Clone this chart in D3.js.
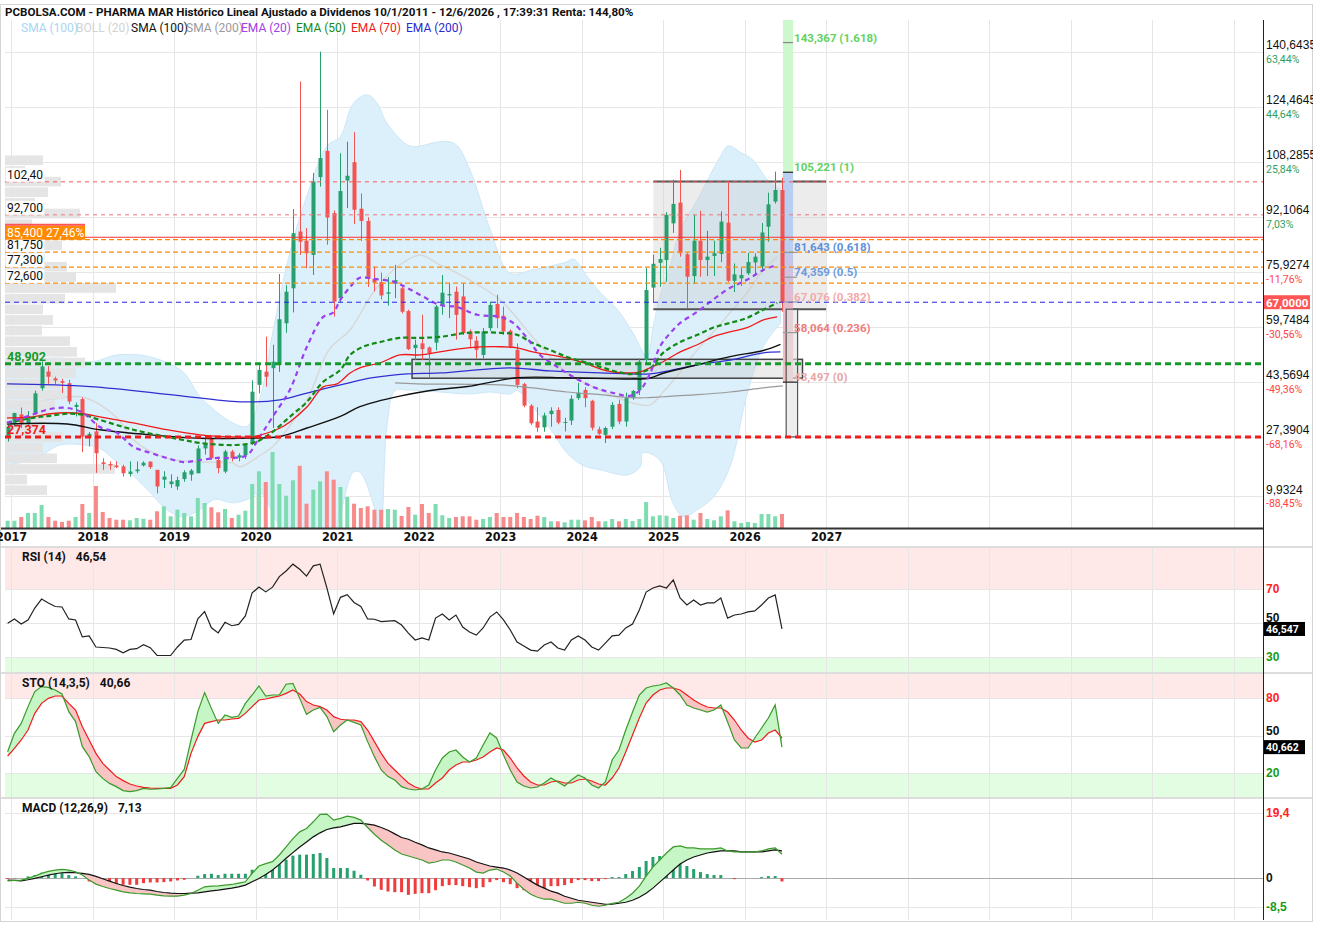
<!DOCTYPE html>
<html>
<head>
<meta charset="utf-8">
<script src="https://cdn.jsdelivr.net/npm/d3@7"></script>
<style>
  body { margin: 0; background: #fff; }
  svg { display: block; font-family: Roboto, "Liberation Sans", sans-serif; }
</style>
</head>
<body>
<svg width="1318" height="927"></svg>
<script>
(function() {
	"use strict";

	// ---------- data ----------
	var title = "PCBOLSA.COM - PHARMA MAR Histórico Lineal Ajustado a Dividenos 10/1/2011 - 12/6/2026 , 17:39:31 Renta: 144,80%";
	var legendNames = ["SMA (100)", "BOLL (20)", "SMA (100)", "SMA (200)", "EMA (20)", "EMA (50)", "EMA (70)", "EMA (200)"];
	var years = d3.range(2017, 2028);
	var priceTicks = [140.6435, 124.4645, 108.2855, 92.1064, 75.9274, 59.7484, 43.5694, 27.3904, 9.9324];
	var priceTickPct = ["63,44%", "44,64%", "25,84%", "7,03%", "-11,76%", "-30,56%", "-49,36%", "-68,16%", "-88,45%"];
	var lastPrice = 67.0;

	// monthly candles, first one is December 2016
	var firstMonth = 2016 + 11 / 12;
	var opens = [27.5, 31.5, 34, 31.5, 34.4, 41.7, 46.6, 44.6, 43.8, 43.2, 36.2, 38.5, 27.3, 29, 19.9, 19.4, 19.0, 18.7, 16.5, 17.3, 19.0, 20.1, 17.7, 14.8, 13.5, 12.8, 15, 16.3, 16.7, 24, 27, 20.6, 17.2, 23.1, 21.3, 22, 25.5, 42.7, 46.6, 47.6, 48.6, 60.8, 71.1, 87.8, 85.1, 80.9, 103.8, 111.5, 93.2, 68.2, 102.8, 108.2, 94.5, 90.9, 73.9, 72.9, 69.5, 72.5, 71.1, 64.4, 53.5, 54.9, 53.7, 55.1, 66.2, 69, 70.1, 68.7, 58.4, 55.7, 51.5, 59.4, 66.5, 63, 58.6, 53, 42.9, 36.6, 31.9, 30.2, 34.1, 35.3, 31.6, 32.2, 38.8, 41.2, 38, 29.6, 28, 30.4, 37.1, 31.9, 38.8, 41.2, 50, 71.3, 78.6, 79.4, 90.2, 96.3, 81.1, 74.7, 85.1, 79.4, 80.6, 81.2, 90.4, 73.3, 74, 75.5, 78.7, 77.5, 89.2, 96.6, 100];
	var highs = [31, 34.5, 36, 35, 41, 49.6, 48.2, 45.1, 44.5, 44.2, 37.5, 39, 28.8, 31.5, 21.1, 20.2, 20.2, 19.2, 20.2, 20.2, 20.2, 20.2, 17.7, 17.3, 16.4, 15.7, 17.6, 18, 24.9, 27.6, 27.6, 21.6, 23.6, 23.6, 22.6, 25.5, 44, 48.6, 56.9, 54.5, 75.3, 72, 94.4, 131.9, 88.8, 105, 140.7, 123.6, 94, 110.8, 114.2, 117, 99, 92, 77.5, 75.7, 74.4, 78, 71.5, 64.8, 56, 63.3, 54, 66.2, 75, 72.7, 71.6, 72.6, 59, 57, 59.4, 67.2, 69.2, 65.7, 59, 54.9, 43.3, 37, 36.1, 34.5, 36.1, 36.1, 33, 39.6, 43.3, 42, 38.3, 30.4, 30.4, 37.6, 38.3, 40.4, 41.2, 50.5, 77, 81, 83, 93.5, 103, 105.9, 81.5, 92.7, 93.9, 88, 85.1, 93.7, 102.5, 78.4, 77, 81.5, 81.4, 90.3, 99.2, 105.4, 103.6];
	var lows = [26, 30.5, 30, 31, 34, 41, 43, 42.8, 40.3, 37, 33.4, 22.9, 24.6, 16.8, 17.7, 17.7, 18.2, 15.7, 15.7, 16.7, 18.7, 18, 10.8, 12.4, 12.4, 11.8, 14.2, 14.5, 16.7, 22.2, 20.6, 16.7, 16.7, 20.2, 20.2, 20.9, 25, 40.2, 42.2, 30, 46.5, 58, 64, 80.9, 77, 75, 101, 83.9, 62.8, 67, 94.7, 90, 85, 71.5, 70.2, 67.8, 66, 68.2, 63.7, 52.9, 50, 50, 44.7, 52.9, 63.3, 62.3, 56, 57.4, 53.5, 50.5, 50.5, 58.6, 59.4, 57.4, 53.5, 41.7, 36.1, 30.9, 28.9, 28.9, 30.4, 31.1, 29, 30.9, 38.3, 36.1, 29.3, 28, 25.6, 29.7, 31.1, 30.4, 38.3, 39.7, 48.5, 67, 71.5, 73, 87.4, 80.4, 65.3, 72.5, 74.5, 74.7, 74.7, 78.8, 73, 70, 71.8, 75, 74.8, 76, 84.8, 96, 64.2];
	var closes = [30.4, 34.4, 31.5, 33.5, 40.2, 48.1, 45.1, 44.0, 43.3, 37.8, 36.8, 27.5, 28.3, 22.6, 19.4, 19.0, 18.5, 16.7, 17.2, 17.8, 19.8, 18.5, 12.8, 15.7, 14.3, 14.7, 17, 17.5, 24, 25.5, 21.1, 18.2, 23.1, 21.1, 22, 25, 40.7, 47.1, 45.1, 49.5, 62, 70.1, 87.3, 84.8, 81.4, 102.5, 109.4, 91.9, 67.2, 99.7, 104.2, 94.2, 90.9, 73.9, 72.8, 69, 69.9, 73.5, 64.2, 53.2, 54.5, 53.2, 52, 65.7, 69.8, 69.4, 63.3, 57.9, 56.1, 53, 58.4, 66.2, 62.3, 58.4, 54, 42.7, 36.6, 31.4, 30.1, 33.7, 35.1, 31.6, 31.8, 38.6, 40.4, 38.8, 30.1, 28.3, 30, 36.8, 31.9, 38.8, 40.9, 49.5, 70.6, 78.3, 79.7, 92.7, 95.9, 81.4, 74.5, 85.1, 79.4, 80.4, 81.4, 90.7, 73.3, 75.2, 75, 78.8, 80.4, 87.5, 95.8, 100, 67];
	var volumes = [7.3, 7.3, 11, 15, 15, 23, 11, 7.3, 6, 7.3, 11, 24, 15, 42, 16, 10, 8.3, 8.3, 7.7, 10, 9.3, 8.3, 16.7, 21.7, 11.7, 18.3, 15, 11.7, 30, 25, 20.7, 15.7, 19, 10, 13.3, 17.3, 44, 56.7, 46, 76, 44, 32.3, 47.7, 62.3, 24.3, 38.3, 46.7, 56.7, 48.3, 41, 31, 24.3, 20, 21.7, 18.3, 18.3, 19, 18.3, 12, 21, 13.3, 24, 15, 24, 12.7, 10, 11, 11.7, 11.7, 8.3, 9, 11, 15, 11, 11, 15, 11, 9, 12.3, 11, 6.7, 6.7, 5.7, 8.3, 8.3, 7.7, 11, 6.7, 6.7, 9, 6.7, 9, 7, 9, 26, 11.7, 12.7, 12.3, 10, 12.3, 12.7, 8.3, 15, 9, 7.7, 11.7, 17.7, 6.7, 5, 6, 5, 14, 14, 11.7, 14];

	// moving averages and band, sampled as [year, price]
	var sma100 = [[2016.95,31.2],[2017.69,31.2],[2018.09,29.5],[2018.71,28.0],[2019.32,27.0],[2019.81,27.0],[2020.30,27.5],[2020.63,30.0],[2021.04,33.4],[2021.28,36.3],[2021.77,39.4],[2022.26,41.4],[2022.60,42.2],[2023.21,44.8],[2023.82,44.8],[2024.63,44.4],[2024.84,44.7],[2025.00,46.1],[2025.42,48.6],[2025.82,51.0],[2026.23,52.8],[2026.44,54.6]];
	var sma200 = [[2021.71,43.3],[2021.98,43.0],[2023.00,42.7],[2023.40,41.8],[2023.82,40.6],[2024.23,39.8],[2024.63,38.9],[2024.75,38.9],[2025.00,39.2],[2025.42,39.8],[2025.82,40.6],[2026.23,41.8],[2026.47,42.4]];
	var ema20 = [[2016.95,31.5],[2017.27,34.0],[2017.48,35.6],[2017.69,35.9],[2017.88,34.5],[2018.09,30.3],[2018.30,28.6],[2018.50,24.5],[2018.71,22.7],[2018.91,21.2],[2019.11,20.0],[2019.32,20.6],[2019.53,21.2],[2019.72,21.2],[2019.90,22.1],[2020.04,27.0],[2020.21,33.3],[2020.42,41.2],[2020.63,53.9],[2020.83,62.7],[2020.95,63.9],[2021.04,67.7],[2021.16,71.5],[2021.28,74.2],[2021.44,73.9],[2021.69,73.0],[2021.86,71.2],[2022.06,68.6],[2022.26,66.2],[2022.47,65.6],[2022.72,63.3],[2023.00,62.7],[2023.16,60.9],[2023.33,56.5],[2023.49,51.5],[2023.70,48.0],[2023.90,45.0],[2024.14,42.1],[2024.39,40.3],[2024.60,39.5],[2024.72,41.2],[2024.84,46.0],[2024.96,53.9],[2025.09,58.0],[2025.21,60.9],[2025.42,64.2],[2025.61,67.7],[2025.82,71.2],[2026.03,73.6],[2026.23,76.5],[2026.40,78.0]];
	var ema50 = [[2016.95,31.5],[2017.27,33.0],[2017.48,33.6],[2017.69,34.2],[2017.88,33.9],[2018.09,32.4],[2018.50,29.5],[2018.91,27.4],[2019.11,26.5],[2019.32,25.6],[2019.72,25.0],[2019.97,25.6],[2020.06,26.5],[2020.21,28.9],[2020.42,33.3],[2020.63,37.7],[2020.83,43.6],[2021.04,47.1],[2021.16,51.5],[2021.32,53.9],[2021.53,55.3],[2021.77,56.5],[2022.02,56.5],[2022.26,56.8],[2022.60,58.0],[2023.00,58.0],[2023.21,57.4],[2023.40,55.0],[2023.61,53.0],[2023.82,50.9],[2024.02,49.5],[2024.23,48.0],[2024.44,46.5],[2024.63,45.9],[2024.84,47.5],[2025.00,52.1],[2025.21,55.3],[2025.42,57.4],[2025.61,59.5],[2025.82,60.9],[2026.03,62.4],[2026.23,64.8],[2026.40,66.8]];
	var ema70 = [[2016.95,33.0],[2017.27,33.3],[2017.48,34.2],[2017.69,34.5],[2017.88,34.2],[2018.09,33.3],[2018.50,31.5],[2018.91,29.5],[2019.32,28.0],[2019.72,27.4],[2019.97,27.4],[2020.06,27.9],[2020.30,30.0],[2020.42,31.8],[2020.63,36.2],[2020.83,42.1],[2021.00,43.0],[2021.16,46.2],[2021.28,47.7],[2021.53,49.2],[2021.77,51.5],[2022.02,51.5],[2022.26,52.4],[2022.60,53.6],[2023.00,53.9],[2023.21,53.6],[2023.40,52.4],[2023.82,50.6],[2024.02,49.2],[2024.31,46.8],[2024.56,46.2],[2024.72,46.5],[2024.84,47.7],[2025.00,49.5],[2025.21,52.4],[2025.42,54.5],[2025.61,56.8],[2025.82,58.3],[2026.03,59.5],[2026.23,61.8],[2026.40,62.7]];
	var ema200 = [[2016.95,43.0],[2017.97,42.2],[2019.01,39.7],[2019.81,37.7],[2020.30,38.3],[2020.63,40.3],[2021.04,42.7],[2021.44,44.8],[2021.86,45.9],[2022.26,46.2],[2023.12,47.7],[2023.61,46.8],[2024.23,46.2],[2024.84,45.9],[2025.00,46.5],[2025.42,48.6],[2025.82,50.0],[2026.23,52.1],[2026.44,52.4]];
	var bollUpper = [[2016.93,47.7],[2017.30,50.0],[2017.60,50.6],[2018.00,49.5],[2018.30,51.5],[2018.71,50.9],[2019.11,46.5],[2019.32,39.2],[2019.72,31.5],[2019.90,30.6],[2020.06,39.2],[2020.21,58.0],[2020.42,81.5],[2020.63,98.3],[2020.88,113.0],[2021.04,115.7],[2021.20,125.5],[2021.37,128.0],[2021.49,125.6],[2021.61,119.7],[2021.86,113.3],[2021.98,112.8],[2022.26,114.2],[2022.45,113.5],[2022.63,105.9],[2022.88,88.3],[2023.12,75.6],[2023.40,76.5],[2023.82,78.9],[2023.90,79.7],[2024.07,74.5],[2024.23,69.8],[2024.44,64.8],[2024.63,58.0],[2024.80,51.0],[2024.88,60.0],[2024.96,68.6],[2025.09,78.0],[2025.21,88.3],[2025.42,97.1],[2025.61,105.9],[2025.70,109.7],[2025.80,113.0],[2025.94,111.2],[2026.10,108.9],[2026.28,103.0],[2026.44,100.0]];
	var bollLower = [[2016.93,19.0],[2017.30,21.0],[2017.60,25.0],[2017.90,25.0],[2018.09,24.0],[2018.30,20.0],[2018.50,16.0],[2018.71,11.0],[2018.91,6.0],[2019.11,4.0],[2019.32,6.0],[2019.50,9.0],[2019.72,8.0],[2019.90,9.0],[2020.06,10.9],[2020.21,5.0],[2020.42,-5],[2020.63,-10],[2020.83,-10],[2021.04,5],[2021.20,17],[2021.28,17],[2021.44,8],[2021.53,-2],[2021.61,30],[2021.71,41],[2021.86,41.2],[2022.26,40.6],[2022.63,40.0],[2022.88,40.6],[2023.12,40.0],[2023.21,41.0],[2023.40,36.2],[2023.61,30.0],[2023.82,22.7],[2024.02,19.0],[2024.23,17.7],[2024.56,16.2],[2024.72,18.6],[2024.75,22.7],[2024.96,20.6],[2025.12,8.0],[2025.25,3.9],[2025.42,6.0],[2025.61,9.5],[2025.82,18.6],[2026.03,40.0],[2026.23,54.0],[2026.44,60.8]];
	var bollMid = [[2016.95,36.0],[2017.50,38.5],[2017.90,39.0],[2018.30,33.0],[2018.50,26.5],[2018.90,21.2],[2019.30,20.0],[2019.72,19.7],[2019.81,18.6],[2020.06,22.0],[2020.21,24.5],[2020.63,38.3],[2020.90,53.0],[2021.16,58.9],[2021.44,69.8],[2021.65,75.6],[2021.86,79.4],[2022.02,80.9],[2022.26,78.0],[2022.47,75.6],[2023.00,67.7],[2023.40,56.8],[2023.82,46.2],[2024.23,41.2],[2024.63,37.3],[2024.84,36.8],[2025.00,40.6],[2025.21,46.5],[2025.42,53.0],[2025.61,58.0],[2025.82,63.9],[2026.03,69.8],[2026.23,76.5],[2026.40,80.3]];

	// volume by price (left side), bins of 3.13 from 10.0
	var profileStart = 10.0, profileStep = 3.13;
	var profileVol = [42, 22, 110, 52, 38, 58, 40, 45, 50, 60, 55, 71, 80, 72, 65, 37, 48, 38, 60, 111, 71, 62, 40, 57, 80, 27, 75, 30, 43, 56, 20, 38];

	// support / resistance levels
	var levelValues = [102.40, 92.70, 81.75, 77.30, 72.60];
	var levelLabels = ["102,40", "92,700", "81,750", "77,300", "72,600"];
	var orangeLevel = 85.40, orangeLabel = "85,400  27,46%", redSolidLevel = 86.1;
	var greenLevel = 48.902, greenLabel = "48,902";
	var redLevel = 27.374, redLabel = "27,374";

	// fibonacci projection
	var fibLevels = [143.367, 105.221, 81.643, 74.359, 67.076, 58.064, 43.497];
	var fibRatios = ["1.618", "1", "0.618", "0.5", "0.382", "0.236", "0"];
	var fibTime = [2026.47, 2026.595];
	var rangeBox = {t0: 2024.88, t1: 2027.0, lo: 64.95, hi: 102.5};
	var baseBox = {t0: 2021.92, t1: 2026.71, lo: 44.65, hi: 50.2};
	var fallBox = {t0: 2026.51, t1: 2026.65, lo: 27.39, hi: 64.95};

	// indicators, one value per candle
	var rsi = [49.8, 52.4, 49.4, 51.8, 58.8, 64.1, 61.8, 59.7, 59.4, 52.4, 51.8, 41.8, 42.4, 35.9, 35.6, 35.3, 34.5, 32.5, 34.5, 34.9, 37.3, 35.5, 30.9, 30.9, 30.9, 35.9, 39.9, 40.3, 52.4, 56.7, 47.2, 44.2, 50.4, 48.4, 49.2, 54.2, 67.7, 71.1, 68.3, 71.1, 77.3, 80.6, 84.6, 81.6, 77.6, 83.6, 84.6, 70.7, 55.4, 65.1, 66.7, 62.1, 59.7, 52.4, 52.2, 50.8, 51.1, 51.4, 48.8,
		44.1, 40, 41.2, 40, 52.9, 55.3, 51.8, 54.7, 47.6, 44.7, 42.9, 47.1, 53.5, 56.5, 51.8, 45.9, 38.8, 36.5, 34.1, 33.5, 37.1, 38.8, 35.3, 34.1, 40, 42.4, 40, 35.9, 34.1, 38.2, 42.4, 42.9, 47.1, 49.4, 57.6, 68.2, 70.6, 71.8, 70.6, 75.3, 64.7, 60.6, 63.5, 60.6, 61.8, 61.8, 64.7, 52.9, 54.7, 55.3, 56.5, 57.1, 60.6, 64.7, 66.5, 46.5];
	var stoK = [37.0, 51.7, 59.7, 73.1, 85.1, 89.1, 88.5, 86.4, 83.2, 69.1, 61.1, 41.1, 33.1, 21.1, 15.7, 11.7, 9.1, 5.9, 5.1, 5.9, 7.7, 7.0, 7.2, 7.7, 8.3, 15.7, 22.9, 46.4, 69.1, 84.3, 71.7, 59.7, 66.4, 64.5, 65.6, 75.7, 82.4, 89.6, 81.6, 82.4, 82.4, 91.0, 91.7, 79.7, 66.9, 70.4, 72.5, 65.1, 53.1, 58.4, 62.4, 60.5, 58.4, 45.1, 33.1, 22.4, 17.1, 14.4, 9.1,
		7.2, 6.4, 7.2, 10.4, 22.4, 32, 36.8, 38.4, 32.8, 28.8, 32, 42.4, 52, 48, 34.4, 22.4, 12.8, 9.6, 8, 8.8, 12, 16, 12.8, 9.6, 14.4, 18.4, 16, 10.4, 8, 12.8, 30.4, 38.4, 54.4, 68.8, 82.4, 88, 89.6, 90.4, 92, 88, 82.4, 74.4, 72, 70.4, 68.8, 70.4, 74.4, 60.8, 46.4, 40, 40, 48, 56, 64, 74.4, 40.7];
	var stoD = [33.6, 39.7, 46.4, 54.4, 67.7, 75.7, 79.7, 81.6, 81.6, 75.7, 70.4, 57.0, 46.4, 35.7, 27.7, 22.4, 17.1, 13.9, 11.2, 9.6, 8.5, 8.0, 7.7, 7.7, 7.7, 10.4, 17.1, 35.7, 49.1, 59.7, 61.1, 62.4, 62.4, 63.2, 63.7, 67.7, 73.1, 78.4, 79.2, 80.5, 81.6, 83.7, 86.4, 83.2, 77.1, 74.4, 73.1, 70.4, 65.1, 63.0, 62.4, 62.4, 61.1, 54.4, 45.1, 35.7, 27.7, 22.4, 17.1,
		12, 8.8, 7.2, 7.2, 12, 16, 22.4, 26.4, 28.8, 28.8, 30.4, 32.8, 36.8, 40, 38.4, 32, 24, 17.6, 12.8, 10.4, 10.4, 12.8, 13.6, 12, 12, 14.4, 15.2, 13.6, 11.2, 10.4, 16, 24, 36.8, 50.4, 64, 76, 82.4, 86.4, 88, 88, 86.4, 82.4, 78.4, 75.2, 72.8, 72, 72, 68.8, 62.4, 54.4, 48, 44.8, 46.4, 52, 54.4, 48];
	var macd = [-0.8, -0.7, -0.6, -0.1, 0.6, 1.4, 2.0, 2.4, 2.6, 2.4, 1.9, 0.9, -0.6, -1.8, -2.5, -3.1, -3.6, -4.1, -4.4, -4.6, -4.7, -4.8, -5.1, -5.3, -5.4, -5.4, -5.1, -4.6, -3.6, -2.6, -2.4, -2.3, -2.1, -1.9, -1.5, -1.1, 1.4, 3.6, 4.3, 4.9, 6.9, 9.3, 11.8, 13.8, 14.8, 16.8, 19.0, 19.1, 17.3, 17.8, 18.5, 18.1, 17.3, 15.1, 13.1, 11.3, 9.9, 8.4, 7.2,
		6.6, 6, 5.4, 4.5, 4.8, 5.4, 5.4, 4.8, 3.9, 3, 1.8, 1.5, 2.4, 2.7, 1.8, 0.6, -1.5, -3.3, -4.8, -5.7, -6.3, -6.3, -6.9, -7.5, -7.5, -7.2, -7.5, -8.1, -8.4, -8.1, -7.5, -7.2, -6, -4.5, -2.4, 0.6, 3.3, 5.4, 7.5, 9.3, 9.6, 9, 9, 8.7, 8.7, 8.7, 9, 8.1, 7.8, 7.8, 7.8, 7.8, 8.1, 8.7, 9, 7.1];
	var macdSignal = [-0.6, -0.7, -0.8, -0.5, -0.1, 0.4, 0.9, 1.3, 1.6, 1.7, 1.6, 1.4, 1.1, 0.5, -0.2, -0.9, -1.6, -2.2, -2.7, -3.1, -3.4, -3.6, -4.0, -4.3, -4.5, -4.6, -4.6, -4.5, -4.4, -4.1, -3.8, -3.6, -3.3, -3.0, -2.6, -2.1, -1.1, -0.1, 1.1, 2.4, 4.1, 5.9, 7.6, 9.3, 10.8, 12.3, 13.5, 14.5, 15.0, 15.3, 15.8, 16.3, 16.3, 16.1, 15.8, 15.1, 14.3, 13.2, 12.1,
		11.6, 10.7, 9.9, 9, 8.4, 7.8, 7.5, 6.9, 6.3, 5.7, 4.8, 4.2, 3.6, 3.3, 3, 2.4, 1.5, 0.3, -0.9, -2.1, -3, -3.9, -4.5, -5.4, -6, -6.6, -6.9, -7.2, -7.5, -7.8, -7.8, -7.5, -7.2, -6.6, -5.7, -4.5, -3, -1.2, 0.6, 2.4, 4.2, 5.4, 6.3, 6.9, 7.5, 7.8, 8.1, 8.1, 8.1, 7.8, 7.8, 7.8, 7.8, 8.1, 8.4, 8.1];
	var macdHist = [-0.2, -0.1, 0, 0.5, 0.9, 1.6, 1.9, 1.9, 1.6, 0.9, 0.5, 0, -1.0, -1.5, -1.7, -2.0, -2.0, -2.0, -2.0, -2.0, -1.5, -1.3, -1.3, -1.2, -1.0, -0.7, -0.5, 0, 0.7, 1.2, 1.3, 0.9, 1.3, 1.3, 1.3, 1.3, 2.5, 3.5, 4.0, 4.3, 5.0, 5.5, 6.7, 7.0, 7.0, 7.2, 7.5, 6.0, 3.0, 3.0, 3.0, 2.2, 1.0, -0.7, -2.5, -3.5, -4.0, -4.2, -4.2,
		-5, -4.7, -4.5, -4.5, -3.6, -2.4, -2.1, -2.1, -2.4, -2.7, -3, -2.7, -1.2, -0.6, -1.2, -1.8, -3, -3.6, -3.9, -3.6, -3.3, -2.4, -2.4, -2.1, -1.5, -0.6, -0.6, -0.9, -0.9, -0.3, 0.3, 0.3, 1.2, 2.1, 3.3, 5.1, 6.3, 6.6, 6.9, 6.9, 5.4, 3.6, 2.7, 1.8, 1.2, 0.9, 0.9, 0, -0.3, 0, 0, 0, 0.3, 0.6, 0.6, -1.0];
	var rsiLevels = [70, 50, 30], stoLevels = [80, 50, 20], macdLevels = [19.4, 0, -8.5];
	var rsiLast = "46,547", stoLast = "40,662";
	var rsiTitle = ["RSI (14)", "46,54"], stoTitle = ["STO (14,3,5)", "40,66"], macdTitle = ["MACD (12,26,9)", "7,13"];

	// ---------- layout ----------
	var svg = d3.select("svg"),
		defs = svg.append("defs"),
		L = 5, R = 1263,
		mainP = {top: 20, bottom: 528},
		rsiP = {top: 548, bottom: 672},
		stoP = {top: 674, bottom: 797},
		macdP = {top: 799, bottom: 920},
		gridColor = "#e6e6e6",
		upColor = "#26a06c", downColor = "#f25353";

	var x = d3.scaleLinear().domain([2016.926, 2032.36]).range([L, R]),
		y = d3.scaleLinear().domain([0.6, 150]).range([mainP.bottom, mainP.top]),
		yVol = d3.scaleLinear().domain([0, 100]).range([mainP.bottom, mainP.bottom - 100]),
		yRsi = d3.scaleLinear().domain([21.2, 94.1]).range([rsiP.bottom, rsiP.top]),
		ySto = d3.scaleLinear().domain([0, 100]).range([stoP.bottom + 1, stoP.top - 1]),
		yMacd = d3.scaleLinear().domain([-12.5, 23.6]).range([macdP.bottom, macdP.top]),
		xProf = d3.scaleLinear().domain([0, 100]).range([L, L + 100]);

	function t(k) { return firstMonth + (k + 0.5) / 12; }
	function comma(s) { return String(s).replace(".", ","); }

	svg.append("rect").attr("width", 1318).attr("height", 927).attr("fill", "#fff");

	function clip(id, p) {
		defs.append("clipPath").attr("id", id).append("rect")
			.attr("x", L).attr("y", p.top).attr("width", R - L).attr("height", p.bottom - p.top);
	}
	clip("cMain", mainP); clip("cRsi", rsiP); clip("cSto", stoP); clip("cMacd", macdP);
	defs.append("clipPath").attr("id", "cAll").append("rect").attr("x", 0).attr("y", 0).attr("width", 1313).attr("height", 927);

	// panel bands
	svg.append("rect").attr("x", L).attr("width", R - L).attr("y", rsiP.top).attr("height", yRsi(70) - rsiP.top).attr("fill", "#ffe8e8");
	svg.append("rect").attr("x", L).attr("width", R - L).attr("y", yRsi(30)).attr("height", rsiP.bottom - yRsi(30)).attr("fill", "#e3fde3");
	svg.append("rect").attr("x", L).attr("width", R - L).attr("y", stoP.top).attr("height", ySto(80) - stoP.top).attr("fill", "#ffe8e8");
	svg.append("rect").attr("x", L).attr("width", R - L).attr("y", ySto(20)).attr("height", stoP.bottom - ySto(20)).attr("fill", "#e3fde3");

	// grids
	var grid = svg.append("g").attr("stroke", gridColor).attr("stroke-width", 1);
	[mainP, rsiP, stoP, macdP].forEach(function(p) {
		grid.selectAll(null).data(d3.range(2017, 2033)).enter().append("line")
			.attr("x1", function(d) { return Math.round(x(d)) + 0.5; })
			.attr("x2", function(d) { return Math.round(x(d)) + 0.5; })
			.attr("y1", p.top).attr("y2", p.bottom);
	});
	grid.selectAll(null).data(priceTicks).enter().append("line")
		.attr("x1", L).attr("x2", R)
		.attr("y1", function(d) { return Math.round(y(d)) + 0.5; })
		.attr("y2", function(d) { return Math.round(y(d)) + 0.5; });
	[[rsiLevels, yRsi], [stoLevels, ySto], [macdLevels, yMacd]].forEach(function(a) {
		grid.selectAll(null).data(a[0]).enter().append("line")
			.attr("x1", L).attr("x2", R)
			.attr("y1", function(d) { return Math.round(a[1](d)) + 0.5; })
			.attr("y2", function(d) { return Math.round(a[1](d)) + 0.5; })
			.attr("stroke", function(d) { return d === 0 ? "#aaa" : gridColor; });
	});

	// ---------- main panel ----------
	var gMain = svg.append("g").attr("clip-path", "url(#cMain)");
	var smooth = d3.line().x(function(d) { return x(d[0]); }).y(function(d) { return y(d[1]); }).curve(d3.curveCatmullRom.alpha(0.5));

	// bollinger band
	gMain.append("path")
		.attr("d", smooth(bollUpper) + "L" + smooth(bollLower.slice().reverse()).slice(1) + "Z")
		.attr("fill", "#dcf0fc").attr("stroke", "#cde7f8").attr("stroke-width", 1);
	gMain.append("path").attr("d", smooth(bollMid)).attr("fill", "none").attr("stroke", "#d8d8d8").attr("stroke-width", 1.5);

	// volume profile
	gMain.selectAll(".prof").data(profileVol).enter().append("rect")
		.attr("x", L)
		.attr("y", function(d, k) { return y(profileStart + profileStep * (k + 1)); })
		.attr("width", function(d) { return xProf(d) - L; })
		.attr("height", function(d, k) { return y(profileStart + profileStep * k) - y(profileStart + profileStep * (k + 1)) - 1; })
		.attr("fill", "#e2e2e2").attr("opacity", 0.9);

	// volume bars
	gMain.selectAll(".vol").data(volumes).enter().append("rect")
		.attr("x", function(d, k) { return x(t(k)) - 2; })
		.attr("width", 4)
		.attr("y", function(d) { return yVol(d); })
		.attr("height", function(d) { return yVol(0) - yVol(d); })
		.attr("fill", function(d, k) { return closes[k] >= opens[k] ? "#7ddcb0" : "#f78a8a"; });

	// boxes
	function box(b, fill, stroke, sides) {
		gMain.append("rect").attr("x", x(b.t0)).attr("width", x(b.t1) - x(b.t0))
			.attr("y", y(b.hi)).attr("height", y(b.lo) - y(b.hi))
			.attr("fill", fill).attr("stroke", sides ? stroke : "none").attr("stroke-width", 1.5);
		if (!sides) {
			[b.hi, b.lo].forEach(function(v) {
				gMain.append("line").attr("x1", x(b.t0)).attr("x2", x(b.t1)).attr("y1", y(v)).attr("y2", y(v))
					.attr("stroke", stroke).attr("stroke-width", 2);
			});
		}
	}
	box(rangeBox, "rgba(200,200,200,0.35)", "#555", false);
	box(baseBox, "rgba(200,200,200,0.35)", "#444", true);

	// fib column
	var grad = defs.append("linearGradient").attr("id", "fibGrad").attr("gradientUnits", "userSpaceOnUse")
		.attr("x1", 0).attr("x2", 0).attr("y1", y(fibLevels[2])).attr("y2", y(fibLevels[6]));
	grad.append("stop").attr("offset", 0).attr("stop-color", "#bcc9ef");
	grad.append("stop").attr("offset", 0.45).attr("stop-color", "#eab8c8");
	grad.append("stop").attr("offset", 1).attr("stop-color", "#f2c2c2");
	var fx0 = x(fibTime[0]), fx1 = x(fibTime[1]);
	gMain.append("rect").attr("x", fx0).attr("width", fx1 - fx0).attr("y", mainP.top).attr("height", y(fibLevels[1]) - mainP.top).attr("fill", "#cdf7cd");
	gMain.append("rect").attr("x", fx0).attr("width", fx1 - fx0).attr("y", y(fibLevels[1])).attr("height", y(fibLevels[2]) - y(fibLevels[1])).attr("fill", "#b8cff2");
	gMain.append("rect").attr("x", fx0).attr("width", fx1 - fx0).attr("y", y(fibLevels[2])).attr("height", y(fibLevels[6]) - y(fibLevels[2])).attr("fill", "url(#fibGrad)");
	gMain.append("rect").attr("x", x(fallBox.t0)).attr("width", x(fallBox.t1) - x(fallBox.t0))
		.attr("y", y(fallBox.hi)).attr("height", y(fallBox.lo) - y(fallBox.hi))
		.attr("fill", "rgba(225,225,225,0.6)").attr("stroke", "#555").attr("stroke-width", 1.2);

	// candles
	var candles = gMain.selectAll(".c").data(closes).enter().append("g");
	candles.append("line")
		.attr("x1", function(d, k) { return Math.round(x(t(k))) + 0.5; })
		.attr("x2", function(d, k) { return Math.round(x(t(k))) + 0.5; })
		.attr("y1", function(d, k) { return y(highs[k]); })
		.attr("y2", function(d, k) { return y(lows[k]); })
		.attr("stroke", function(d, k) { return d >= opens[k] ? upColor : downColor; });
	candles.append("rect")
		.attr("x", function(d, k) { return Math.round(x(t(k))) - 1.5; })
		.attr("width", 4)
		.attr("y", function(d, k) { return y(Math.max(d, opens[k])); })
		.attr("height", function(d, k) { return Math.max(1, Math.abs(y(d) - y(opens[k]))); })
		.attr("fill", function(d, k) { return d >= opens[k] ? upColor : downColor; });

	// moving averages
	function ma(data, color, width, dash) {
		gMain.append("path").attr("d", smooth(data)).attr("fill", "none")
			.attr("stroke", color).attr("stroke-width", width).attr("stroke-dasharray", dash || null);
	}
	ma(sma200, "#9a9a9a", 1.2);
	ma(ema200, "#3030d0", 1.3);
	ma(sma100, "#111", 1.4);
	ma(ema70, "#f01818", 1.3);
	ma(ema50, "#138a13", 2.2, "5,3");
	ma(ema20, "#9b40f0", 2.2, "5,4");

	// horizontal levels
	function hline(v, color, width, dash) {
		gMain.append("line").attr("x1", L).attr("x2", R).attr("y1", y(v)).attr("y2", y(v))
			.attr("stroke", color).attr("stroke-width", width).attr("stroke-dasharray", dash);
	}
	hline(levelValues[0], "#f55", 1, "4,4");
	hline(levelValues[1], "#e77", 1, "4,4");
	hline(redSolidLevel, "#f33", 1, null);
	hline(orangeLevel, "#ff8c00", 1.3, "5,3");
	levelValues.slice(2).forEach(function(v) { hline(v, "#ff8c00", 1.3, "5,3"); });
	hline(lastPrice, "#2222ee", 1, "5,4");
	hline(greenLevel, "#139a2a", 3, "6,4");
	hline(redLevel, "#ee1c1c", 3, "6,4");

	// fib ticks and labels
	var fibColors = ["#5fd35f", "#5fd35f", "#5b8fdc", "#6b9ae0", "#f3aaaa", "#f07c7c", "#e8a6a6"];
	fibLevels.forEach(function(v, i) {
		gMain.append("line").attr("x1", fx0).attr("x2", fx1 + (i > 1 ? 4 : 0)).attr("y1", y(v)).attr("y2", y(v))
			.attr("stroke", i === 0 ? "#888" : (i === 1 || i === 6 ? "#222" : "#999")).attr("stroke-width", 1.2);
		svg.append("text").attr("x", fx1 + 1).attr("y", y(v) - 1)
			.attr("font-size", 11.5).attr("font-weight", "bold").attr("fill", fibColors[i])
			.text(comma(v.toFixed(3)) + " (" + fibRatios[i] + ")");
	});

	// left labels
	function leftLabel(v, txt, color, bold, bg) {
		var tx = svg.append("text").attr("x", 7).attr("y", y(v) - 3)
			.attr("font-size", 12).attr("fill", color).attr("font-weight", bold ? "bold" : "normal").text(txt);
		var bb = tx.node().getBBox();
		svg.insert("rect", function() { return tx.node(); })
			.attr("x", bb.x - 1).attr("y", bb.y).attr("width", bb.width + 2).attr("height", bb.height)
			.attr("fill", bg || "#fff").attr("opacity", bg ? 1 : 0.9);
	}
	levelLabels.forEach(function(s, i) { leftLabel(levelValues[i], s, "#111", false); });
	(function() {
		var top = y(orangeLevel) - 14;
		svg.append("rect").attr("x", L).attr("y", top).attr("width", 80).attr("height", 14).attr("fill", "#ff8a00");
		svg.append("line").attr("x1", L).attr("x2", L + 80).attr("y1", top - 1).attr("y2", top - 1).attr("stroke", "#f55").attr("stroke-width", 2);
		svg.append("text").attr("x", 7).attr("y", top + 11).attr("font-size", 12).attr("fill", "#fff").text(orangeLabel);
	})();
	svg.append("text").attr("x", 7).attr("y", y(greenLevel) - 3).attr("font-size", 12.5).attr("font-weight", "bold").attr("fill", "#139a2a").text(greenLabel);
	svg.append("text").attr("x", 7).attr("y", y(redLevel) - 3).attr("font-size", 12.5).attr("font-weight", "bold").attr("fill", "#ee1c1c").text(redLabel);

	// ---------- indicator panels ----------
	var xs = closes.map(function(d, k) { return x(t(k)); });
	function linePath(vals, ys) {
		return d3.line().x(function(d, i) { return xs[i]; }).y(function(d) { return ys(d); })(vals);
	}
	function fillBetween(g, a, b, ys, p, upFill, downFill, id) {
		var band = d3.area().x(function(d, i) { return xs[i]; }).y0(function(d, i) { return ys(b[i]); }).y1(function(d) { return ys(d); });
		var above = d3.area().x(function(d, i) { return xs[i]; }).y0(p.top).y1(function(d) { return ys(d); });
		var below = d3.area().x(function(d, i) { return xs[i]; }).y0(p.bottom).y1(function(d) { return ys(d); });
		defs.append("clipPath").attr("id", id + "u").append("path").attr("d", above(b));
		defs.append("clipPath").attr("id", id + "d").append("path").attr("d", below(b));
		g.append("path").attr("d", band(a)).attr("fill", upFill).attr("clip-path", "url(#" + id + "u)");
		g.append("path").attr("d", band(a)).attr("fill", downFill).attr("clip-path", "url(#" + id + "d)");
	}

	var gRsi = svg.append("g").attr("clip-path", "url(#cRsi)");
	gRsi.append("path").attr("d", linePath(rsi, yRsi)).attr("fill", "none").attr("stroke", "#222").attr("stroke-width", 1.2);

	var gSto = svg.append("g").attr("clip-path", "url(#cSto)");
	fillBetween(gSto, stoK, stoD, ySto, stoP, "#c6f5c6", "#f8c4c4", "fs");
	gSto.append("path").attr("d", linePath(stoD, ySto)).attr("fill", "none").attr("stroke", "#f01c1c").attr("stroke-width", 1.2);
	gSto.append("path").attr("d", linePath(stoK, ySto)).attr("fill", "none").attr("stroke", "#3a9a2a").attr("stroke-width", 1.2);

	var gMacd = svg.append("g").attr("clip-path", "url(#cMacd)");
	gMacd.selectAll(".h").data(macdHist).enter().append("rect")
		.attr("x", function(d, k) { return xs[k] - 1.5; }).attr("width", 3)
		.attr("y", function(d) { return Math.min(yMacd(d), yMacd(0)); })
		.attr("height", function(d) { return Math.abs(yMacd(d) - yMacd(0)); })
		.attr("fill", function(d) { return d >= 0 ? "#26a06c" : "#f03c3c"; });
	fillBetween(gMacd, macd, macdSignal, yMacd, macdP, "#c6f5c6", "#f8c4c4", "fm");
	gMacd.append("path").attr("d", linePath(macdSignal, yMacd)).attr("fill", "none").attr("stroke", "#111").attr("stroke-width", 1.2);
	gMacd.append("path").attr("d", linePath(macd, yMacd)).attr("fill", "none").attr("stroke", "#3a9a2a").attr("stroke-width", 1.2);

	// panel titles
	[[rsiTitle, rsiP], [stoTitle, stoP], [macdTitle, macdP]].forEach(function(a) {
		var tx = svg.append("text").attr("x", 22).attr("y", a[1].top + 13).attr("font-size", 12).attr("font-weight", "bold").attr("fill", "#111");
		tx.append("tspan").text(a[0][0]);
		tx.append("tspan").attr("dx", 10).text(a[0][1]);
	});

	// ---------- frame, separators, axes ----------
	svg.append("rect").attr("x", 0).attr("y", 529).attr("width", 1313).attr("height", 17).attr("fill", "#fff");
	[547, 673, 798].forEach(function(v) {
		svg.append("line").attr("x1", 0).attr("x2", 1313).attr("y1", v).attr("y2", v).attr("stroke", "#ddd").attr("stroke-width", 2);
	});
	svg.append("line").attr("x1", 0).attr("x2", R).attr("y1", 528.5).attr("y2", 528.5).attr("stroke", "#333").attr("stroke-width", 2);
	svg.append("line").attr("x1", R + 0.5).attr("x2", R + 0.5).attr("y1", mainP.top).attr("y2", macdP.bottom).attr("stroke", "#222");
	svg.append("rect").attr("x", 0.5).attr("y", 4.5).attr("width", 1312).attr("height", 917).attr("fill", "none").attr("stroke", "#d4d4d4");

	var gx = svg.append("g").attr("transform", "translate(0," + 529 + ")")
		.call(d3.axisBottom(x).tickValues(years).tickFormat(d3.format("d")).tickSize(0).tickPadding(3));
	gx.select(".domain").remove();
	gx.selectAll("text").attr("font-size", 12.5).attr("font-weight", "bold").attr("fill", "#111")
		.attr("font-family", "'Liberation Sans Narrow', 'DejaVu Sans Condensed', sans-serif");

	var gAxis = svg.append("g").attr("clip-path", "url(#cAll)");
	var gy = gAxis.append("g").attr("transform", "translate(" + (R + 2) + ",0)")
		.call(d3.axisRight(y).tickValues(priceTicks).tickFormat(function(d) { return comma(d.toFixed(4)); }).tickSize(0).tickPadding(1));
	gy.select(".domain").remove();
	gy.selectAll("text").attr("font-size", 12).attr("fill", "#111").attr("dy", "-0.25em");
	gAxis.selectAll(".pct").data(priceTicks).enter().append("text")
		.attr("x", R + 3).attr("y", function(d) { return y(d) + 11; })
		.attr("font-size", 10.5).attr("fill", function(d, i) { return priceTickPct[i].charAt(0) === "-" ? "#f44" : "#2e9e63"; })
		.text(function(d, i) { return priceTickPct[i]; });

	gAxis.append("rect").attr("x", R + 1).attr("y", y(lastPrice) - 7).attr("width", 46).attr("height", 14).attr("fill", "#f55");
	gAxis.append("text").attr("x", R + 3).attr("y", y(lastPrice) + 4.5).attr("font-size", 11.5).attr("font-weight", "bold").attr("fill", "#fff")
		.text(comma(lastPrice.toFixed(4)));

	function panelAxis(levels, ys, colors) {
		var g = gAxis.append("g").attr("transform", "translate(" + (R + 2) + ",0)")
			.call(d3.axisRight(ys).tickValues(levels).tickFormat(function(d) { return comma(d); }).tickSize(0).tickPadding(1));
		g.select(".domain").remove();
		g.selectAll("text").attr("font-size", 12).attr("font-weight", "bold").attr("fill", function(d, i) { return colors[i]; });
		g.selectAll("text").filter(function(d) { return d === 50; }).attr("dy", "-0.1em");
	}
	panelAxis(rsiLevels, yRsi, ["#f22", "#111", "#1a9a1a"]);
	panelAxis(stoLevels, ySto, ["#f22", "#111", "#1a9a1a"]);
	panelAxis(macdLevels, yMacd, ["#f22", "#111", "#1a9a1a"]);

	function lastBox(v, ys, txt) {
		gAxis.append("rect").attr("x", R + 1).attr("y", ys(v) - 7).attr("width", 41).attr("height", 14).attr("fill", "#000");
		gAxis.append("text").attr("x", R + 3).attr("y", ys(v) + 4).attr("font-size", 10.5).attr("font-weight", "bold").attr("fill", "#fff").text(txt);
	}
	lastBox(rsi[rsi.length - 1], yRsi, rsiLast);
	lastBox(stoK[stoK.length - 1], ySto, stoLast);

	// title and legend
	svg.append("text").attr("x", 5).attr("y", 16).attr("font-size", 11.6).attr("font-weight", "bold").attr("fill", "#111").text(title);
	var legendColors = ["#a8d5f3", "#d2d2d2", "#111", "#9a9a9a", "#a040e8", "#138a13", "#f01818", "#2a2ad0"];
	svg.selectAll(".lg").data(legendNames).enter().append("text")
		.attr("x", function(d, i) { return 21 + i * 55; }).attr("y", 32)
		.attr("font-size", 12).attr("fill", function(d, i) { return legendColors[i]; })
		.text(function(d) { return d; });
})();
</script>
</body>
</html>
